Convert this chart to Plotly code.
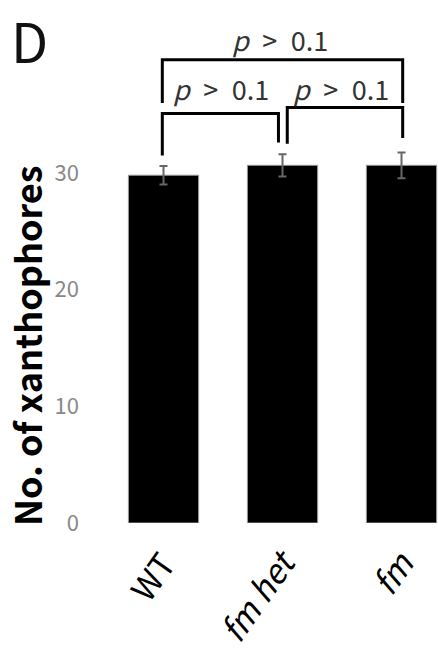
import plotly.graph_objects as go

categories = ["WT", "<i>fm het</i>", "<i>fm</i>"]
means = [29.8, 30.65, 30.65]
errors = [0.8, 0.95, 1.1]
yticks = [0, 10, 20, 30]
p_labels = ["<i>p</i>\u2002>\u20020.1"] * 3

W, H = 438, 663
L, T, B, R = 104, 0, 140, 0
pw, ph = W - L - R, H - T - B

fig = go.Figure()
fig.add_trace(go.Bar(
    x=[0, 1, 2], y=means, width=0.59,
    marker=dict(color="black", line=dict(color="#999", width=1)),
    error_y=dict(type="data", array=errors, visible=True, color="#666", thickness=2, width=4),
))

def px2x(px):
    return (px - L) / pw

def px2y(py):
    return 1 - (py - T) / ph

line = dict(color="black", width=3)
fig.add_shape(type="path", path="M -0.01 36.0 L -0.01 39.7 L 2.01 39.7 L 2.01 36.0", line=line)
fig.add_shape(type="path", path="M -0.01 31.5 L -0.01 35.1 L 0.966 35.1 L 0.966 32.6", line=line)
fig.add_shape(type="path", path="M 1.04 32.5 L 1.04 35.6 L 2.01 35.6 L 2.01 33.0", line=line)

pfont = dict(family="Noto Sans CJK JP", size=27, color="#333")
for (xx, yy), t in zip([(0.98, 41.4), (0.48, 37.2), (1.49, 37.2)], p_labels):
    fig.add_annotation(x=xx, y=yy, text=t, showarrow=False, font=pfont, xanchor="center", yanchor="middle")

fig.add_annotation(xref="paper", yref="paper", x=px2x(10), y=px2y(39), text="D",
                   showarrow=False, xanchor="left", yanchor="middle", borderpad=0,
                   font=dict(family="Noto Sans CJK JP", size=54, color="#111"))
fig.add_annotation(xref="paper", yref="paper", x=px2x(26), y=px2y(346), text="<b>No. of xanthophores</b>",
                   showarrow=False, textangle=-90, xanchor="center", yanchor="middle",
                   font=dict(family="Noto Sans CJK JP", size=36, color="black"))

fig.update_layout(
    width=W, height=H, margin=dict(l=L, r=R, t=T, b=B),
    plot_bgcolor="white", paper_bgcolor="white", showlegend=False,
    xaxis=dict(range=[-0.5, (W - L) / 119 - 0.5], tickvals=[0, 1, 2], ticktext=categories,
               tickangle=-55, showline=False, showgrid=False, zeroline=False,
               ticklabelstandoff=14,
               tickfont=dict(family="Noto Sans CJK JP", size=33, color="black")),
    yaxis=dict(range=[0, ph / 11.67], tickvals=yticks, showgrid=False, zeroline=False, showline=False,
               ticklabelstandoff=24,
               tickfont=dict(family="Noto Sans CJK JP", size=22, color="#888")),
)
fig.write_html("out.html", config={"displayModeBar": False},
               post_script="document.body.style.margin='0';document.body.style.padding='0';")
